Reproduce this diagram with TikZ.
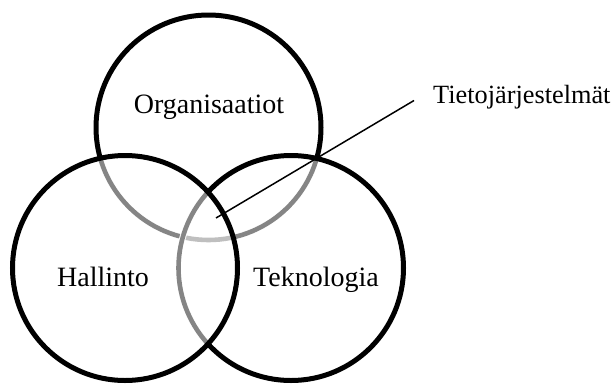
\documentclass[tikz,border=0pt]{standalone}
\usepackage{fontspec}
\setmainfont{Liberation Serif}
\begin{document}
\begin{tikzpicture}[x=1pt,y=-1pt,
  ring/.style={line width=5pt, draw=black},
  midring/.style={line width=4.6pt, draw=black!48},
  lightring/.style={line width=4.6pt, draw=black!25},
  eraser/.style={line width=6.5pt, draw=white},
  lbl/.style={font=\fontsize{28}{30}\selectfont, anchor=base, inner sep=0pt},
  leader/.style={line width=1.5pt, draw=black}]
\useasboundingbox (0,0) rectangle (615,383);
\def\rr{112.5pt}
% circle centres
\coordinate (O) at (208.5,127.5);
\coordinate (H) at (125,268);
\coordinate (T) at (291,268);
% upper circle, black outline
\draw[ring] (O) circle[radius=\rr];
% upper circle inside the left circle
\begin{scope}
  \clip (H) circle[radius=\rr];
  \draw[eraser] (O) circle[radius=\rr];
  \draw[midring] (O) circle[radius=\rr];
\end{scope}
% upper circle inside the right circle
\begin{scope}
  \clip (T) circle[radius=\rr];
  \draw[eraser] (O) circle[radius=\rr];
  \draw[midring] (O) circle[radius=\rr];
\end{scope}
% upper circle inside both lower circles
\begin{scope}
  \clip (H) circle[radius=\rr];
  \clip (T) circle[radius=\rr];
  \draw[eraser] (O) circle[radius=\rr];
  \draw[lightring] (O) circle[radius=\rr];
\end{scope}
% right circle, grey where it lies inside the left circle
\draw[ring] (T) circle[radius=\rr];
\begin{scope}
  \clip (H) circle[radius=\rr];
  \draw[eraser] (T) circle[radius=\rr];
  \draw[midring] (T) circle[radius=\rr];
\end{scope}
% left circle
\draw[ring] (H) circle[radius=\rr];
% labels
\node[lbl] (org) at (209,113) {Organisaatiot};
\node[lbl] (hal) at (103,286) {Hallinto};
\node[lbl] (tek) at (316,286) {Teknologia};
\node[lbl, anchor=base west, font=\fontsize{26.3}{30}\selectfont] (tj) at (433,103) {Tietojärjestelmät};
% leader line to the common area
\coordinate (tip) at (216,218);
\coordinate (lead) at (414,100.5);
\draw[leader] (tip) -- (lead);
\end{tikzpicture}
\end{document}
